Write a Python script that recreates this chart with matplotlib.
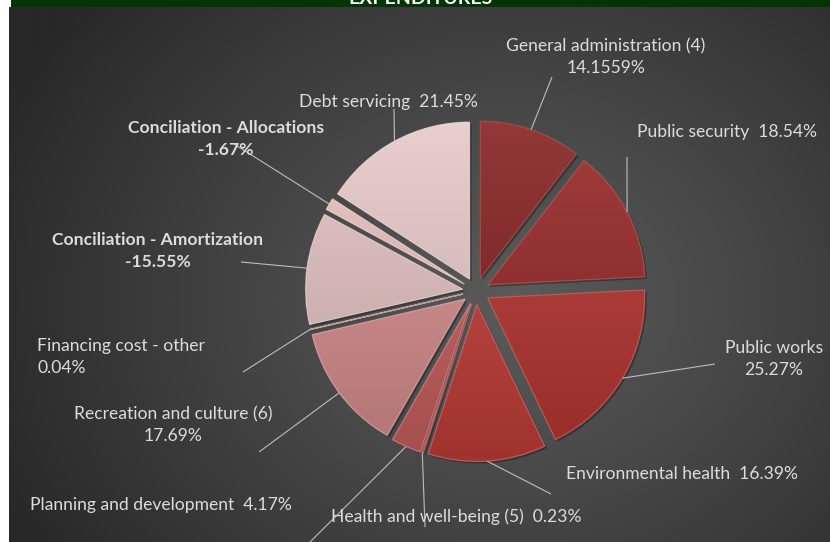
import numpy as np
import matplotlib
matplotlib.use("Agg")
import matplotlib.pyplot as plt
from matplotlib.colors import to_rgb
from matplotlib import patheffects as pe

# ---- data -------------------------------------------------------------
categories = [
    "General administration (4)", "Public security", "Public works",
    "Environmental health", "Health and well-being (5)",
    "Planning and development", "Recreation and culture (6)",
    "Financing cost - other", "Conciliation - Amortization",
    "Conciliation - Allocations", "Debt servicing",
]
values = [14.1559, 18.54, 25.27, 16.39, 0.23, 4.17, 17.69, 0.04,
          -15.55, -1.67, 21.45]
value_labels = ["14.1559%", "18.54%", "25.27%", "16.39%", "0.23%", "4.17%",
                "17.69%", "0.04%", "-15.55%", "-1.67%", "21.45%"]
title = "EXPENDITURES"

# ---- styling ----------------------------------------------------------
W, H = 830, 542
FONT = ["Lato", "DejaVu Sans"]
TEXT_COLOR = "#DCDCDC"
LEADER_COLOR = "#BDBDBD"
colors = ["#862222", "#962828", "#B43531", "#BF3D38", "#C24A46", "#C45E5D",
          "#D48C8C", "#DDA5A5", "#E2C0C0", "#E9C0C0", "#E8C9C9"]

# label layout in pixel coordinates: (x, y, two_lines, align, bold, leader end)
layout = [
    (606, 57, True, "center", False, (552, 77)),
    (727, 132, False, "center", False, (627, 157)),
    (774, 359, True, "center", False, (715, 364)),
    (682, 474, False, "center", False, (551, 494)),
    (456, 517, False, "center", False, (425, 527)),
    (161, 505, False, "center", False, (307, 545)),
    (173, 425, True, "center", False, (259, 452)),
    (37, 357, True, "left", False, (243, 372)),
    (158, 251, True, "center", True, (241, 262)),
    (226, 139, True, "center", True, (234, 144)),
    (388, 102, False, "center", False, (394, 109)),
]

fig = plt.figure(figsize=(W / 100, H / 100), dpi=100)

# ---- background: white margin, green header strip, radial grey -------
bg = fig.add_axes([0, 0, 1, 1], zorder=0)
yy, xx = np.mgrid[0:H, 0:W]
d = np.sqrt(((xx - 510) / 560.0) ** 2 + ((yy - 300) / 470.0) ** 2)
t = np.clip(d, 0, 1) ** 1.1
g = (90 * (1 - t) + 40 * t) / 255.0
img = np.dstack([g, g, g])
img[:, :9] = 1.0
img[:7, :] = 1.0
img[:7, 11:] = np.array(to_rgb("#033603"))
bg.imshow(img, extent=[0, W, H, 0], interpolation="bilinear", aspect="auto")
bg.set_xlim(0, W)
bg.set_ylim(H, 0)
bg.axis("off")

# ---- pie --------------------------------------------------------------
ax = fig.add_axes([0, 0, 1, 1], zorder=1)
ax.patch.set_alpha(0)
cx, cy, R, EXP = 476, H - 291, 157, 13.5
wedges, _ = ax.pie(
    np.abs(values), colors=colors, startangle=90, counterclock=False,
    radius=R, center=(cx, cy), explode=[EXP] * len(values),
    wedgeprops=dict(linewidth=0.0),
)

def shade(c, f):
    r = np.array(to_rgb(c))
    return np.clip(r * f, 0, 1) if f < 1 else r + (1 - r) * (f - 1)

for w, c in zip(wedges, colors):
    w.set_path_effects([pe.SimplePatchShadow(offset=(1.5, -1.5), alpha=0.45,
                                             shadow_rgbFace="#1a1a1a"),
                        pe.Normal()])
    top, bot = shade(c, 1.10), shade(c, 0.84)
    n = 64
    s = np.linspace(0, 1, n)[:, None]
    grad = (top[None, :] * (1 - s) + bot[None, :] * s)[:, None, :]
    wx, wy = w.center
    im = ax.imshow(grad, extent=[wx - w.r, wx + w.r, wy - w.r, wy + w.r],
                   origin="upper", aspect="auto", interpolation="bilinear",
                   zorder=w.get_zorder() + 0.1)
    im.set_clip_path(w)
    # thin bevel outline
    ax.add_patch(matplotlib.patches.Wedge(
        w.center, w.r, w.theta1, w.theta2, facecolor="none",
        edgecolor=shade(c, 1.25), linewidth=0.9, alpha=0.7,
        zorder=w.get_zorder() + 0.2))

# ---- labels and leader lines -----------------------------------------
for w, name, vl, (lx, ly, two, align, bold, end) in zip(
        wedges, categories, value_labels, layout):
    txt = f"{name}\n{vl}" if two else f"{name}  {vl}"
    ax.text(lx, H - ly, txt, ha=align, va="center", multialignment=align,
            fontsize=12.6, color=TEXT_COLOR, family=FONT, linespacing=1.4,
            fontweight="bold" if bold else "normal", zorder=5)
    mid = np.deg2rad((w.theta1 + w.theta2) / 2)
    ax0 = w.center[0] + w.r * np.cos(mid)
    ay0 = w.center[1] + w.r * np.sin(mid)
    ax.plot([ax0, end[0]], [ay0, H - end[1]], color=LEADER_COLOR,
            linewidth=0.8, zorder=4, solid_capstyle="butt")

ax.set_xlim(0, W)
ax.set_ylim(0, H)
ax.set_aspect("auto")
ax.axis("off")

fig.text(421 / W, 1 - 3.5 / H, title, ha="center", va="baseline",
         color="white", fontsize=14, fontweight="bold", family=FONT)

fig.savefig("out.png", dpi=100)
